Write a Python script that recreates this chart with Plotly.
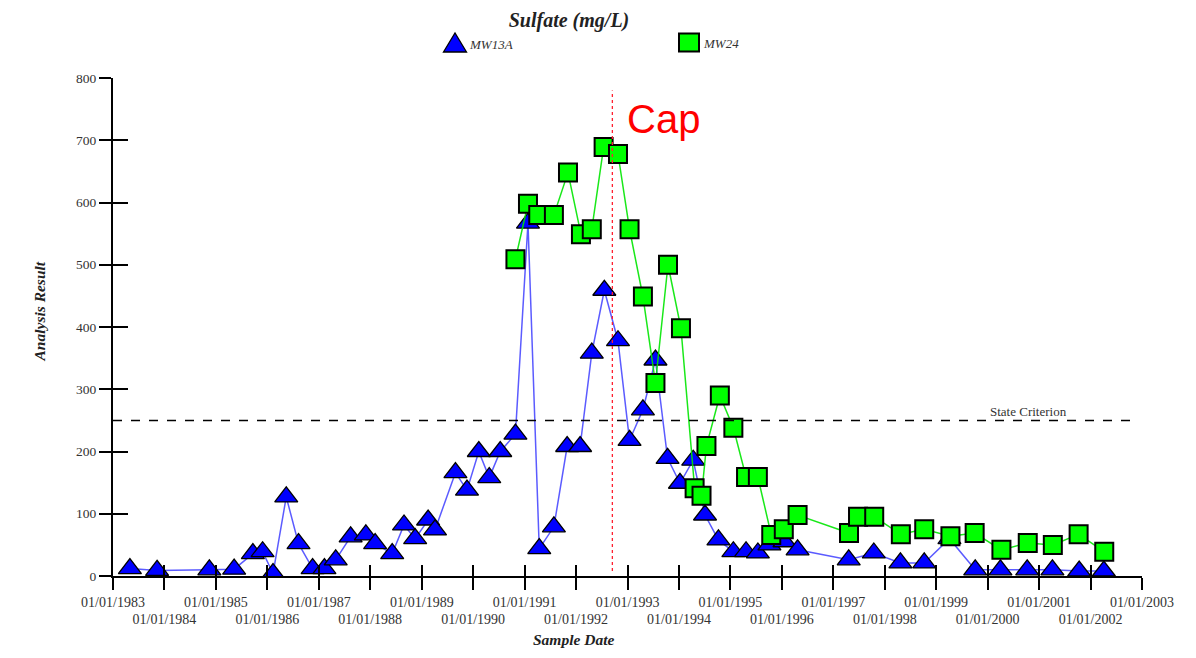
import plotly.graph_objects as go

# ---------------- data ----------------
mw13a_dates = ["1983-05-01","1983-11-10","1984-11-15","1985-05-10","1985-09-20","1985-11-28","1986-02-10",
               "1986-05-15","1986-08-10","1986-11-18","1987-02-10","1987-05-01","1987-08-15","1987-12-01",
               "1988-02-05","1988-06-05","1988-08-28","1988-11-15","1989-02-15","1989-04-05","1989-08-28",
               "1989-11-18","1990-02-10","1990-04-25","1990-07-12","1990-10-28","1991-01-25","1991-04-15",
               "1991-07-28","1991-10-30","1992-01-30","1992-04-22","1992-07-20","1992-10-25","1993-01-15",
               "1993-04-20","1993-07-18","1993-10-12","1994-01-08","1994-04-12","1994-07-05","1994-10-08",
               "1995-01-22","1995-04-22","1995-07-15","1995-10-05","1996-01-20","1996-04-22","1997-04-20",
               "1997-10-15","1998-04-22","1998-10-08","1999-04-05","1999-10-05","2000-04-01","2000-10-08",
               "2001-04-05","2001-10-12","2002-04-05"]
mw13a_values = [12, 9, 10, 11, 36, 39, 4, 127, 52, 12, 12, 26, 63, 66, 52, 36, 82, 60, 90, 74,
                 166, 138, 200, 158, 200, 228, 567, 44, 79, 208, 208, 358, 459, 378, 218, 267, 347, 189, 149, 186,
                 98, 58, 39, 39, 37, 50, 55, 42, 26, 37, 21, 21, 60, 10, 10, 10, 10, 8, 8]

mw24_dates = ["1990-10-28","1991-01-25","1991-04-08","1991-07-28","1991-11-05","1992-02-05","1992-04-22",
              "1992-07-15","1992-10-25","1993-01-15","1993-04-20","1993-07-18","1993-10-15","1994-01-15",
              "1994-04-22","1994-06-10","1994-07-15","1994-10-18","1995-01-22","1995-04-22","1995-07-15",
              "1995-10-18","1996-01-15","1996-04-22","1997-04-22","1997-06-25","1997-10-18","1998-04-25",
              "1998-10-08","1999-04-12","1999-10-01","2000-04-08","2000-10-12","2001-04-08","2001-10-08",
              "2002-04-08"]
mw24_values = [509, 598, 580, 580, 648, 549, 557, 689, 678, 557, 449, 310, 500, 398,
               141, 129, 209, 290, 238, 159, 159, 66, 75, 98, 69, 95, 95, 67,
               75, 64, 69, 42, 53, 50, 67, 39]

years = list(range(1983, 2004))
tick_dates = [f"{y}-01-01" for y in years]
row1_text = [f"01/01/{y}" if y % 2 == 1 else "" for y in years]
row2_text = [f"01/01/{y}" if y % 2 == 0 else "" for y in years]
y_ticks = [0, 100, 200, 300, 400, 500, 600, 700, 800]

STATE_CRITERION = 250
CAP_DATE = "1992-09-15"
CAP_TOP = 780

SERIF = "Liberation Serif"
BLUE = "#0000ff"
GREEN = "#00ff00"

# page geometry helpers (plot area: x 113..1142, y 78..576 on the page)
def px(xp):
    return (xp - 113) / 1029

def py(yp):
    return (576 - yp) / 498

fig = go.Figure()

fig.add_trace(go.Scatter(
    x=mw13a_dates, y=mw13a_values, mode="lines+markers", name="MW13A", showlegend=False,
    line=dict(color="rgba(50,50,255,0.8)", width=1.5),
    marker=dict(symbol="triangle-up", size=20, color=BLUE, line=dict(color="black", width=1.3)),
))
fig.add_trace(go.Scatter(
    x=mw24_dates, y=mw24_values, mode="lines+markers", name="MW24", showlegend=False,
    line=dict(color="rgba(0,230,0,0.9)", width=1.5),
    marker=dict(symbol="square", size=18, color=GREEN, line=dict(color="black", width=2)),
))
# dummy trace for overlay axes
fig.add_trace(go.Scatter(x=[tick_dates[0]], y=[None], xaxis="x2", yaxis="y2",
                         mode="markers", showlegend=False, hoverinfo="skip"))

# State criterion line
fig.add_shape(type="line", xref="paper", yref="y", x0=0, x1=px(1137),
              y0=STATE_CRITERION, y1=STATE_CRITERION,
              line=dict(color="black", width=1.5, dash="dash"))
# Cap line
fig.add_shape(type="line", xref="x", yref="y", x0=CAP_DATE, x1=CAP_DATE, y0=8, y1=CAP_TOP,
              line=dict(color="#ff2030", width=1.3, dash="dot"))

# legend symbols (pixel-sized shapes)
fig.add_shape(type="path", xref="paper", yref="paper", xsizemode="pixel", ysizemode="pixel",
              xanchor=px(455), yanchor=py(43), path="M-11.5,-9 L11.5,-9 L0,10 Z",
              fillcolor=BLUE, line=dict(color="black", width=1.3))
fig.add_shape(type="path", xref="paper", yref="paper", xsizemode="pixel", ysizemode="pixel",
              xanchor=px(689), yanchor=py(42.5), path="M-10,-9 L10,-9 L10,9 L-10,9 Z",
              fillcolor=GREEN, line=dict(color="black", width=2))
fig.add_annotation(text="<i>MW13A</i>", xref="paper", yref="paper", x=px(467), y=py(44),
                   xanchor="left", yanchor="middle", showarrow=False,
                   font=dict(family=SERIF, size=13, color="#333"))
fig.add_annotation(text="<i>MW24</i>", xref="paper", yref="paper", x=px(701), y=py(43),
                   xanchor="left", yanchor="middle", showarrow=False,
                   font=dict(family=SERIF, size=13, color="#333"))

fig.add_annotation(text="State Criterion", xref="paper", yref="y", x=px(1069), y=STATE_CRITERION,
                   yanchor="bottom", yshift=-1, showarrow=False,
                   font=dict(family=SERIF, size=13, color="#333"))
fig.add_annotation(text="Cap", xref="x", yref="paper", x=CAP_DATE, xanchor="left", xshift=13,
                   y=py(119), yanchor="middle", showarrow=False,
                   font=dict(family="Liberation Sans, Arial", size=40, color="#ff0000"))
fig.add_annotation(text="<b><i>Analysis Result</i></b>", xref="paper", yref="paper",
                   x=px(28), y=py(312), textangle=-90, showarrow=False,
                   font=dict(family=SERIF, size=15.5, color="#222"))
fig.add_annotation(text="<b><i>Sample Date</i></b>", xref="paper", yref="paper",
                   x=px(573), y=py(650), showarrow=False,
                   font=dict(family=SERIF, size=15.5, color="#222"))

tickfont_x = dict(family=SERIF, size=14, color="#333")
tickfont_y = dict(family=SERIF, size=13.5, color="#333")

fig.update_layout(
    width=1188, height=650,
    margin=dict(l=105, r=54, t=70, b=82),
    paper_bgcolor="white", plot_bgcolor="white",
    showlegend=False,
    title=dict(text="<b><i>Sulfate (mg/L)</i></b>", x=px(569), xref="paper", xanchor="center",
               y=1 - 12 / 650, yanchor="middle", font=dict(family=SERIF, size=20, color="#222")),
    xaxis=dict(type="date", range=["1983-01-01", "2003-01-01"], tickvals=tick_dates, ticktext=row1_text,
               ticks="outside", ticklen=12, tickwidth=2, tickcolor="black",
               showline=True, linecolor="black", linewidth=2, showgrid=False, zeroline=False,
               tickfont=tickfont_x, tickangle=0),
    xaxis2=dict(type="date", range=["1983-01-01", "2003-01-01"], overlaying="x", anchor="y", side="bottom",
                tickvals=tick_dates, ticktext=row2_text, ticks="inside", ticklen=11, tickwidth=2,
                tickcolor="black", showline=False, showgrid=False, zeroline=False,
                tickfont=tickfont_x, ticklabelstandoff=33, tickangle=0),
    yaxis=dict(range=[0, 800], tickvals=y_ticks,
               ticks="outside", ticklen=12, tickwidth=2, tickcolor="black",
               showline=True, linecolor="black", linewidth=2, showgrid=False, zeroline=False,
               tickfont=tickfont_y),
    yaxis2=dict(range=[0, 800], overlaying="y", anchor="x", side="left",
                tickvals=y_ticks[1:], ticks="inside", ticklen=15, tickwidth=2,
                tickcolor="black", showticklabels=False, showline=False, showgrid=False, zeroline=False),
)

fig.write_html("out.html")
